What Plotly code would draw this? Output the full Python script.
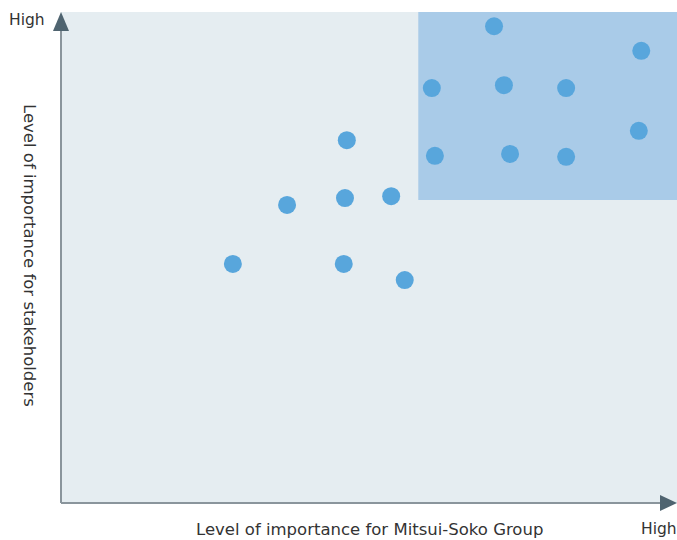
import plotly.graph_objects as go

# Data (0-100 scale on both axes)
importance_company = [70.3, 94.2, 60.2, 71.9, 82.0, 93.8, 60.7, 72.9, 82.0,
                      46.4, 36.7, 46.1, 53.6, 27.9, 45.9, 55.8]
importance_stakeholders = [97.1, 92.1, 84.5, 85.1, 84.5, 75.8, 70.7, 71.1, 70.5,
                           73.9, 60.7, 62.1, 62.5, 48.7, 48.7, 45.4]
highlight_x = [58.0, 100.0]
highlight_y = [61.7, 100.0]
x_title = "Level of importance for Mitsui-Soko Group"
y_title = "Level of importance for stakeholders"
high_label = "High"

FONT = "DejaVu Sans"
TXT = "#333333"
AXIS = "#8a959c"
ARROW = "#4f6470"

fig = go.Figure()
fig.add_trace(go.Scatter(
    x=importance_company, y=importance_stakeholders, mode="markers",
    marker=dict(size=18, color="#58a6dc", line=dict(width=0)),
    hoverinfo="x+y", showlegend=False,
))

shapes = [
    dict(type="rect", xref="x", yref="y", x0=highlight_x[0], x1=highlight_x[1],
         y0=highlight_y[0], y1=highlight_y[1], fillcolor="#a9cbe8",
         line=dict(width=0), layer="below"),
    # axis lines
    dict(type="line", xref="paper", yref="paper", x0=0, x1=0, y0=0, y1=0.97,
         line=dict(color=AXIS, width=2)),
    dict(type="line", xref="paper", yref="paper", x0=0, x1=0.98, y0=0, y1=0,
         line=dict(color=AXIS, width=2)),
    # arrow heads
    dict(type="path", xref="paper", yref="paper", xsizemode="pixel", ysizemode="pixel",
         xanchor=0, yanchor=1, path="M -8,-19 L 0,0 L 8,-19 Z",
         fillcolor=ARROW, line=dict(width=0)),
    dict(type="path", xref="paper", yref="paper", xsizemode="pixel", ysizemode="pixel",
         xanchor=1, yanchor=0, path="M -17,8 L 0,0 L -17,-8 Z",
         fillcolor=ARROW, line=dict(width=0)),
]

W, H = 677, 540
L, R, T, B = 61, 0, 12, 37
pw, ph = W - L - R, H - T - B

def px(xp):
    return (xp - L) / pw

def py(yp):
    return (H - B - yp) / ph

annotations = [
    dict(text=high_label, xref="paper", yref="paper", x=px(26.5), y=py(20),
         showarrow=False, xanchor="center", yanchor="middle",
         font=dict(family=FONT, size=15.5, color=TXT)),
    dict(text=high_label, xref="paper", yref="paper", x=px(659), y=py(529),
         showarrow=False, xanchor="center", yanchor="middle",
         font=dict(family=FONT, size=15.5, color=TXT)),
    dict(text=x_title, xref="paper", yref="paper", x=px(369), y=py(529),
         showarrow=False, xanchor="center", yanchor="middle",
         font=dict(family=FONT, size=16.5, color=TXT)),
    dict(text=y_title, xref="paper", yref="paper", x=px(30), y=py(255),
         showarrow=False, xanchor="center", yanchor="middle", textangle=90,
         font=dict(family=FONT, size=16.5, color=TXT)),
]

fig.update_layout(
    width=W, height=H,
    margin=dict(l=L, r=R, t=T, b=B, pad=0),
    paper_bgcolor="white", plot_bgcolor="#e5edf1",
    xaxis=dict(range=[0, 100], showgrid=False, zeroline=False, showticklabels=False,
               showline=False, ticks="", fixedrange=True),
    yaxis=dict(range=[0, 100], showgrid=False, zeroline=False, showticklabels=False,
               showline=False, ticks="", fixedrange=True),
    shapes=shapes, annotations=annotations,
)

fig.write_html("out.html", config={"displayModeBar": False},
               post_script="document.body.style.margin='0';document.body.style.overflow='hidden';")
